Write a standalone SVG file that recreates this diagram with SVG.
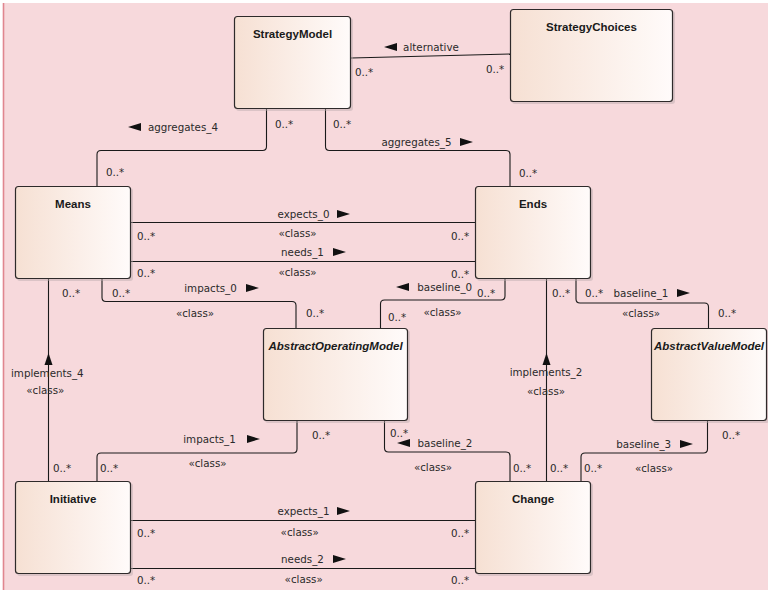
<svg xmlns="http://www.w3.org/2000/svg" width="768" height="590" viewBox="0 0 768 590">
<defs>
<linearGradient id="ng" x1="0" y1="0" x2="1" y2="0">
<stop offset="0" stop-color="#F6E0D3"/>
<stop offset="1" stop-color="#FFFBFA"/>
</linearGradient>
<path id="tr" d="M0,-4 L13,0 L0,4 Z"/>
<path id="tl" d="M13,-4 L0,0 L13,4 Z"/>
</defs>
<style>
.frame{fill:#F7D9DC}
.node .sh{fill:#B9A9AB;opacity:0.45}
.node .box{fill:url(#ng);stroke:#2E2A2A;stroke-width:1.2}
.title{font-family:"Liberation Sans",Arial,sans-serif;font-size:11.5px;font-weight:bold;fill:#1A1A1A;text-anchor:middle}
.abs{font-style:italic}
.conn path{fill:none;stroke:#1A1A1A;stroke-width:1.1}
.lbl{font-family:"DejaVu Sans",Verdana,sans-serif;font-size:10.3px;fill:#2A2A2A}
.c{text-anchor:middle}
.ar{fill:#111}
</style>
<rect x="0" y="0" width="768" height="590" fill="#FFFFFF"/>
<rect class="frame" x="3" y="3" width="765" height="587"/>
<line x1="3.5" y1="3" x2="3.5" y2="590" stroke="#E0868F" stroke-width="1.6"/>

<g id="connectors" class="conn">
<path d="M266.5,109 V146.5 Q266.5,150.5 262.5,150.5 H101 Q97,150.5 97,154.5 V186"/>
<path d="M325.5,109 V146.5 Q325.5,150.5 329.5,150.5 H506 Q510,150.5 510,154.5 V186"/>
<path d="M351,58 L510,54"/>
<path d="M131,222.5 H475"/>
<path d="M131,261.5 H475"/>
<path d="M102,279 V297.5 Q102,301.5 106,301.5 H292 Q296,301.5 296,305.5 V328"/>
<path d="M48.5,481 V279"/>
<path d="M505,279 V296 Q505,300 501,300 H384.5 Q380.5,300 380.5,304 V328"/>
<path d="M546.5,481 V279"/>
<path d="M576,279 V299 Q576,303 580,303 H704.5 Q708.5,303 708.5,307 V328"/>
<path d="M297,421 V449 Q297,453 293,453 H101 Q97,453 97,457 V481"/>
<path d="M384.5,421 V448 Q384.5,452 388.5,452 H506 Q510,452 510,456 V481"/>
<path d="M707.5,421 V449 Q707.5,453 703.5,453 H585 Q581,453 581,457 V481"/>
<path d="M131,520.5 H475"/>
<path d="M131,568.5 H475"/>
<polygon class="ar" points="48.5,353 44.5,365 52.5,365"/>
<polygon class="ar" points="546.5,353 542.5,365 550.5,365"/>
</g>

<g id="StrategyModel" class="node">
<rect class="sh" x="236" y="18" width="117" height="93" rx="3"/>
<rect class="box" x="234.5" y="16.5" width="116" height="92" rx="3"/>
<text class="title" x="292.5" y="38">StrategyModel</text>
</g>
<g id="StrategyChoices" class="node">
<rect class="sh" x="512" y="11" width="163" height="93" rx="3"/>
<rect class="box" x="510.5" y="9.5" width="162" height="92" rx="3"/>
<text class="title" x="591.5" y="31">StrategyChoices</text>
</g>
<g id="Means" class="node">
<rect class="sh" x="17" y="188" width="116" height="93" rx="3"/>
<rect class="box" x="15.5" y="186.5" width="115" height="92" rx="3"/>
<text class="title" x="73" y="208">Means</text>
</g>
<g id="Ends" class="node">
<rect class="sh" x="477" y="188" width="116" height="93" rx="3"/>
<rect class="box" x="475.5" y="186.5" width="115" height="92" rx="3"/>
<text class="title" x="533" y="208">Ends</text>
</g>
<g id="AbstractOperatingModel" class="node">
<rect class="sh" x="265" y="330" width="145" height="93" rx="3"/>
<rect class="box" x="263.5" y="328.5" width="144" height="92" rx="3"/>
<text class="title abs" x="335.5" y="350">AbstractOperatingModel</text>
</g>
<g id="AbstractValueModel" class="node">
<rect class="sh" x="653" y="330" width="116" height="93" rx="3"/>
<rect class="box" x="651.5" y="328.5" width="115" height="92" rx="3"/>
<text class="title abs" x="709" y="350">AbstractValueModel</text>
</g>
<g id="Initiative" class="node">
<rect class="sh" x="17" y="483" width="116" height="93" rx="3"/>
<rect class="box" x="15.5" y="481.5" width="115" height="92" rx="3"/>
<text class="title" x="73" y="503">Initiative</text>
</g>
<g id="Change" class="node">
<rect class="sh" x="477" y="483" width="116" height="93" rx="3"/>
<rect class="box" x="475.5" y="481.5" width="115" height="92" rx="3"/>
<text class="title" x="533" y="503">Change</text>
</g>

<g id="labels">
<use href="#tl" class="ar" x="128" y="127"/>
<text class="lbl c" x="183" y="131">aggregates_4</text>
<use href="#tl" class="ar" x="384" y="47"/>
<text class="lbl c" x="431" y="51">alternative</text>
<text class="lbl c" x="416.5" y="146">aggregates_5</text>
<use href="#tr" class="ar" x="460" y="142"/>
<text class="lbl c" x="303.5" y="218">expects_0</text>
<use href="#tr" class="ar" x="337" y="214"/>
<text class="lbl c" x="302.5" y="256">needs_1</text>
<use href="#tr" class="ar" x="333" y="252"/>
<text class="lbl c" x="210.5" y="292">impacts_0</text>
<use href="#tr" class="ar" x="246" y="288"/>
<text class="lbl c" x="47.3" y="377">implements_4</text>
<use href="#tl" class="ar" x="396" y="287"/>
<text class="lbl c" x="444.7" y="291">baseline_0</text>
<text class="lbl c" x="546" y="376">implements_2</text>
<text class="lbl c" x="641" y="297">baseline_1</text>
<use href="#tr" class="ar" x="677" y="293"/>
<text class="lbl c" x="209.5" y="443">impacts_1</text>
<use href="#tr" class="ar" x="247" y="439"/>
<use href="#tl" class="ar" x="397" y="443"/>
<text class="lbl c" x="445" y="447">baseline_2</text>
<text class="lbl c" x="643.7" y="448">baseline_3</text>
<use href="#tr" class="ar" x="680" y="444"/>
<text class="lbl c" x="303.5" y="515">expects_1</text>
<use href="#tr" class="ar" x="337" y="511"/>
<text class="lbl c" x="302.5" y="563">needs_2</text>
<use href="#tr" class="ar" x="333" y="559"/>

<text class="lbl c" x="297.5" y="237">«class»</text>
<text class="lbl c" x="297.5" y="276">«class»</text>
<text class="lbl c" x="195" y="317">«class»</text>
<text class="lbl c" x="442.5" y="316">«class»</text>
<text class="lbl c" x="641" y="317">«class»</text>
<text class="lbl c" x="207.5" y="467">«class»</text>
<text class="lbl c" x="433" y="471">«class»</text>
<text class="lbl c" x="654" y="472">«class»</text>
<text class="lbl c" x="299.7" y="536">«class»</text>
<text class="lbl c" x="303.7" y="583">«class»</text>
<text class="lbl c" x="45.3" y="394">«class»</text>
<text class="lbl c" x="546" y="395">«class»</text>

<text class="lbl" x="275" y="128">0..*</text>
<text class="lbl" x="333" y="128">0..*</text>
<text class="lbl" x="355" y="76">0..*</text>
<text class="lbl" x="486" y="73">0..*</text>
<text class="lbl" x="106" y="176">0..*</text>
<text class="lbl" x="519" y="177">0..*</text>
<text class="lbl" x="137" y="240">0..*</text>
<text class="lbl" x="451" y="240">0..*</text>
<text class="lbl" x="137" y="277">0..*</text>
<text class="lbl" x="451" y="278">0..*</text>
<text class="lbl" x="62" y="297">0..*</text>
<text class="lbl" x="112" y="297">0..*</text>
<text class="lbl" x="306" y="317">0..*</text>
<text class="lbl" x="477" y="297">0..*</text>
<text class="lbl" x="388" y="321">0..*</text>
<text class="lbl" x="552" y="297">0..*</text>
<text class="lbl" x="585" y="297">0..*</text>
<text class="lbl" x="718" y="317">0..*</text>
<text class="lbl" x="312" y="439">0..*</text>
<text class="lbl" x="53" y="472">0..*</text>
<text class="lbl" x="100" y="472">0..*</text>
<text class="lbl" x="390" y="437">0..*</text>
<text class="lbl" x="513" y="472">0..*</text>
<text class="lbl" x="550" y="472">0..*</text>
<text class="lbl" x="584" y="472">0..*</text>
<text class="lbl" x="722" y="439">0..*</text>
<text class="lbl" x="137" y="537">0..*</text>
<text class="lbl" x="451" y="537">0..*</text>
<text class="lbl" x="137" y="584">0..*</text>
<text class="lbl" x="451" y="584">0..*</text>
</g>
</svg>
